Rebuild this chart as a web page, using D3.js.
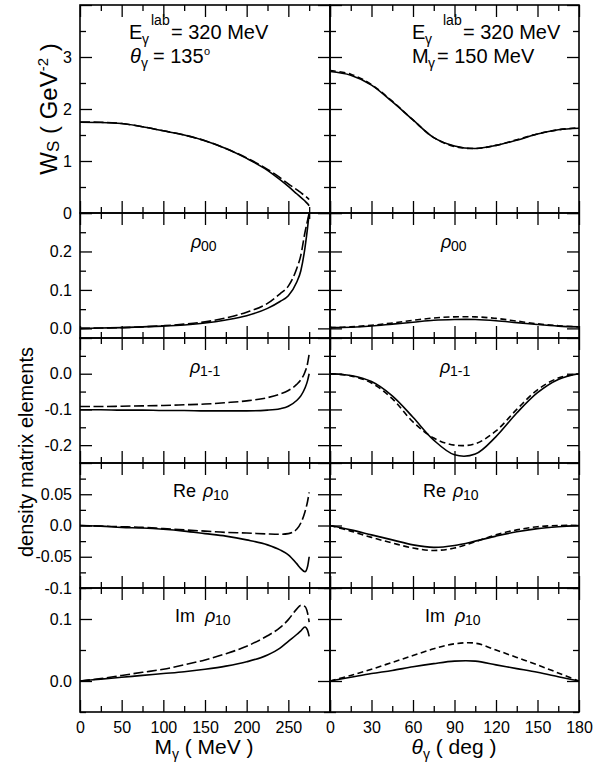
<!DOCTYPE html>
<html lang="en">
<head>
<script src="https://d3js.org/d3.v7.min.js"></script>
<style>
  body { margin: 0; background: #fff; }
  text { font-family: "Liberation Sans", Arial, Helvetica, sans-serif; fill: #000; }
</style>
</head>
<body>
<script>
// values
// left column: x = M_gamma (MeV)
const mGamma = [0, 25, 50, 75, 100, 125, 150, 175, 200, 225, 240, 250, 260, 265, 270, 273, 275];
const wsLeftSolid  = [1.745, 1.74, 1.72, 1.66, 1.58, 1.50, 1.39, 1.24, 1.05, 0.82, 0.64, 0.51, 0.37, 0.30, 0.23, 0.18, 0.14];
const wsLeftDash   = [1.75, 1.745, 1.72, 1.66, 1.58, 1.50, 1.39, 1.24, 1.06, 0.84, 0.68, 0.56, 0.45, 0.39, 0.33, 0.29, 0.26];
const r00LeftSolid = [0, 0.001, 0.002, 0.004, 0.006, 0.009, 0.014, 0.022, 0.033, 0.052, 0.07, 0.085, 0.12, 0.15, 0.21, 0.26, 0.30];
const r00LeftDash  = [0, 0.001, 0.002, 0.004, 0.007, 0.011, 0.017, 0.027, 0.042, 0.065, 0.09, 0.11, 0.155, 0.19, 0.25, 0.28, 0.30];
const r11LeftSolid = [-0.101, -0.101, -0.102, -0.102, -0.103, -0.103, -0.104, -0.104, -0.104, -0.102, -0.098, -0.091, -0.075, -0.062, -0.04, -0.02, 0.0];
const r11LeftDash  = [-0.092, -0.092, -0.091, -0.09, -0.089, -0.087, -0.085, -0.081, -0.076, -0.067, -0.057, -0.047, -0.030, -0.017, 0.005, 0.028, 0.055];
const reLeftSolid  = [0, -0.001, -0.003, -0.004, -0.006, -0.009, -0.013, -0.017, -0.023, -0.031, -0.039, -0.047, -0.061, -0.069, -0.074, -0.066, -0.05];
const reLeftDash   = [0, -0.001, -0.002, -0.003, -0.005, -0.007, -0.009, -0.011, -0.012, -0.0135, -0.014, -0.013, -0.006, 0.004, 0.022, 0.038, 0.053];
const imLeftSolid  = [0, 0.003, 0.006, 0.009, 0.012, 0.015, 0.019, 0.024, 0.031, 0.042, 0.053, 0.064, 0.075, 0.081, 0.087, 0.082, 0.072];
const imLeftDash   = [0, 0.004, 0.009, 0.014, 0.019, 0.026, 0.034, 0.044, 0.056, 0.073, 0.086, 0.099, 0.116, 0.122, 0.12, 0.11, 0.095];

// right column: x = theta_gamma (deg)
const thetaGamma = [0, 15, 30, 45, 60, 75, 90, 105, 120, 135, 150, 165, 180];
const wsRightSolid  = [2.72, 2.65, 2.46, 2.14, 1.79, 1.45, 1.29, 1.24, 1.30, 1.40, 1.52, 1.60, 1.63];
const wsRightDash   = [2.74, 2.67, 2.47, 2.15, 1.79, 1.45, 1.28, 1.24, 1.30, 1.41, 1.52, 1.60, 1.64];
const r00RightSolid = [0.002, 0.003, 0.006, 0.011, 0.016, 0.021, 0.023, 0.023, 0.020, 0.015, 0.010, 0.006, 0.004];
const r00RightDash  = [0.002, 0.004, 0.008, 0.014, 0.021, 0.027, 0.030, 0.030, 0.026, 0.019, 0.012, 0.007, 0.004];
const r11RightSolid = [0, -0.005, -0.022, -0.062, -0.122, -0.186, -0.227, -0.225, -0.176, -0.11, -0.053, -0.016, 0];
const r11RightDash  = [0, -0.006, -0.026, -0.07, -0.135, -0.18, -0.2, -0.196, -0.16, -0.1, -0.045, -0.012, 0];
const reRightSolid  = [0, -0.007, -0.015, -0.023, -0.031, -0.035, -0.032, -0.025, -0.017, -0.01, -0.005, -0.002, 0];
const reRightDash   = [0, -0.009, -0.019, -0.028, -0.036, -0.04, -0.036, -0.026, -0.015, -0.007, -0.002, 0.0, 0];
const imRightSolid  = [0, 0.006, 0.012, 0.017, 0.023, 0.028, 0.032, 0.032, 0.026, 0.02, 0.014, 0.007, 0];
const imRightDash   = [0, 0.009, 0.019, 0.03, 0.041, 0.052, 0.06, 0.061, 0.05, 0.038, 0.026, 0.013, 0];

// axis ticks
const mTicks = [0, 50, 100, 150, 200, 250, 300];
const mTickLabels = ["0", "50", "100", "150", "200", "250", ""];
const mMinor = [25, 75, 125, 175, 225, 275];
const thTicks = [0, 30, 60, 90, 120, 150, 180];
const thTickLabels = ["0", "30", "60", "90", "120", "150", "180"];
const thMinor = [15, 45, 75, 105, 135, 165];

const rows = [
  { top: 5,   bottom: 213, dom: [0, 4],        major: [0, 1, 2, 3, 4], labels: ["0", "1", "2", "3", ""], minor: [0.5, 1.5, 2.5, 3.5],
    left: [wsLeftSolid, wsLeftDash], right: [wsRightSolid, wsRightDash] },
  { top: 213, bottom: 338, dom: [-0.025, 0.3], major: [0, 0.1, 0.2, 0.3], labels: ["0.0", "0.1", "0.2", ""], minor: [0.05, 0.15, 0.25],
    left: [r00LeftSolid, r00LeftDash], right: [r00RightSolid, r00RightDash] },
  { top: 338, bottom: 463, dom: [-0.25, 0.1],  major: [0.1, 0, -0.1, -0.2], labels: ["", "0.0", "-0.1", "-0.2"], minor: [0.05, -0.05, -0.15],
    left: [r11LeftSolid, r11LeftDash], right: [r11RightSolid, r11RightDash] },
  { top: 463, bottom: 588, dom: [-0.1, 0.1],   major: [0.1, 0.05, 0, -0.05, -0.1], labels: ["", "0.05", "0.0", "-0.05", "-0.1"], minor: [0.075, 0.025, -0.025, -0.075],
    left: [reLeftSolid, reLeftDash], right: [reRightSolid, reRightDash] },
  { top: 588, bottom: 712, dom: [-0.05, 0.15], major: [0.1, 0], labels: ["0.1", "0.0"], minor: [0.15, 0.05, -0.05],
    left: [imLeftSolid, imLeftDash], right: [imRightSolid, imRightDash] }
];

const W = 608, H = 762;
const svg = d3.select("body").append("svg").attr("width", W).attr("height", H);
svg.append("rect").attr("width", W).attr("height", H).attr("fill", "#fff");

const xL = d3.scaleLinear().domain([0, 300]).range([80, 330]);
const xR = d3.scaleLinear().domain([0, 180]).range([330, 579]);

const cols = [
  { x: xL, xs: mGamma, major: mTicks, labels: mTickLabels, minor: mMinor, dash: "10,3.5", key: "left", curve: d3.curveMonotoneX },
  { x: xR, xs: thetaGamma, major: thTicks, labels: thTickLabels, minor: thMinor, dash: "6,3.5", key: "right", curve: d3.curveCatmullRom.alpha(0.5) }
];

function styleAxis(g) {
  g.select(".domain").remove();
  g.selectAll(".tick line").attr("stroke", "#000").attr("stroke-width", 1.3);
  g.selectAll(".tick text").attr("font-size", 16).attr("fill", "#000")
    .style("font-family", '"Liberation Sans", Arial, sans-serif');
}

rows.forEach((row, ri) => {
  const y = d3.scaleLinear().domain(row.dom).range([row.bottom, row.top]);
  cols.forEach((col, ci) => {
    const x = col.x;
    const [x0, x1] = x.range();
    const g = svg.append("g");

    // curves, clipped to the panel
    const clipId = "clip" + ri + ci;
    svg.append("clipPath").attr("id", clipId).append("rect")
      .attr("x", x0).attr("y", row.top).attr("width", x1 - x0).attr("height", row.bottom - row.top);
    const line = d3.line().x(d => x(d[0])).y(d => y(d[1])).curve(col.curve);
    const series = row[col.key];
    series.forEach((vals, si) => {
      g.append("path")
        .attr("clip-path", `url(#${clipId})`)
        .attr("d", line(col.xs.map((v, i) => [v, vals[i]])))
        .attr("fill", "none").attr("stroke", "#000").attr("stroke-width", 1.6)
        .attr("stroke-dasharray", si === 1 ? col.dash : null);
    });

    // y ticks, inward on both sides
    const yl = d3.axisLeft(y).tickValues(row.major).tickSize(-12).tickPadding(8)
      .tickFormat((d, i) => ci === 0 ? row.labels[i] : "");
    g.append("g").attr("transform", `translate(${x0},0)`).call(yl).call(styleAxis);
    g.append("g").attr("transform", `translate(${x0},0)`)
      .call(d3.axisLeft(y).tickValues(row.minor).tickSize(-6).tickFormat("")).call(styleAxis);
    g.append("g").attr("transform", `translate(${x1},0)`)
      .call(d3.axisRight(y).tickValues(row.major).tickSize(-12).tickFormat("")).call(styleAxis);
    g.append("g").attr("transform", `translate(${x1},0)`)
      .call(d3.axisRight(y).tickValues(row.minor).tickSize(-6).tickFormat("")).call(styleAxis);

    // x ticks, inward on top and bottom
    g.append("g").attr("transform", `translate(0,${row.top})`)
      .call(d3.axisTop(x).tickValues(col.major).tickSize(-12).tickFormat("")).call(styleAxis);
    g.append("g").attr("transform", `translate(0,${row.top})`)
      .call(d3.axisTop(x).tickValues(col.minor).tickSize(-6).tickFormat("")).call(styleAxis);
    const last = ri === rows.length - 1;
    g.append("g").attr("transform", `translate(0,${row.bottom})`)
      .call(d3.axisBottom(x).tickValues(col.major).tickSize(-12).tickPadding(10)
        .tickFormat((d, i) => last ? col.labels[i] : "")).call(styleAxis);
    g.append("g").attr("transform", `translate(0,${row.bottom})`)
      .call(d3.axisBottom(x).tickValues(col.minor).tickSize(-6).tickFormat("")).call(styleAxis);

    g.append("rect").attr("x", x0).attr("y", row.top)
      .attr("width", x1 - x0).attr("height", row.bottom - row.top)
      .attr("fill", "none").attr("stroke", "#000").attr("stroke-width", 1.6);
  });
});

// text helpers
function txt(x, y, s, size, italic) {
  return svg.append("text").attr("x", x).attr("y", y).attr("font-size", size)
    .attr("font-style", italic ? "italic" : null).text(s);
}

// annotations
txt(129, 39, "E", 20); txt(142, 44, "γ", 14); txt(151, 25, "lab", 14); txt(171, 39, "= 320 MeV", 20);
txt(130, 63, "θ", 20, true); txt(141, 68, "γ", 14); txt(153, 63, "= 135", 20); txt(204, 55, "o", 11);
txt(412, 39, "E", 20); txt(425, 44, "γ", 14); txt(443, 25, "lab", 14); txt(463, 39, "= 320 MeV", 20);
txt(412, 63, "M", 20); txt(428, 68, "γ", 14); txt(437, 63, "= 150 MeV", 20);

// panel labels
const panelLabels = [
  { pre: "", sub: "00", y: 248, xs: [191, 441] },
  { pre: "", sub: "1-1", y: 373, xs: [190, 440] },
  { pre: "Re", sub: "10", y: 497, xs: [173, 423] },
  { pre: "Im", sub: "10", y: 622, xs: [175, 425] }
];
panelLabels.forEach(p => {
  p.xs.forEach(x0 => {
    let x = x0;
    if (p.pre) { txt(x, p.y, p.pre, 18); x += 30; }
    txt(x, p.y, "ρ", 18, true);
    txt(x + 10, p.y + 3, p.sub, 14);
  });
});

// axis titles
svg.append("text").attr("x", 204).attr("y", 754).attr("text-anchor", "middle").attr("font-size", 21)
  .call(t => { t.append("tspan").text("M"); t.append("tspan").attr("font-size", 14).attr("dy", 5).text("γ");
               t.append("tspan").attr("dy", -5).text(" ( MeV )"); });
svg.append("text").attr("x", 454).attr("y", 754).attr("text-anchor", "middle").attr("font-size", 21)
  .call(t => { t.append("tspan").attr("font-style", "italic").text("θ"); t.append("tspan").attr("font-size", 14).attr("dy", 5).text("γ");
               t.append("tspan").attr("dy", -5).text(" ( deg )"); });
svg.append("text").attr("transform", "translate(57,109) rotate(-90)").attr("text-anchor", "middle").attr("font-size", 24)
  .call(t => { t.append("tspan").text("W"); t.append("tspan").attr("font-size", 17).attr("dy", 2).text("S");
               t.append("tspan").attr("dy", -2).text(" ( GeV"); t.append("tspan").attr("font-size", 15).attr("dy", -9).text("-2");
               t.append("tspan").attr("dy", 9).text(" )"); });
svg.append("text").attr("transform", "translate(33,452) rotate(-90)").attr("text-anchor", "middle").attr("font-size", 20)
  .text("density matrix elements");
</script>
</body>
</html>
